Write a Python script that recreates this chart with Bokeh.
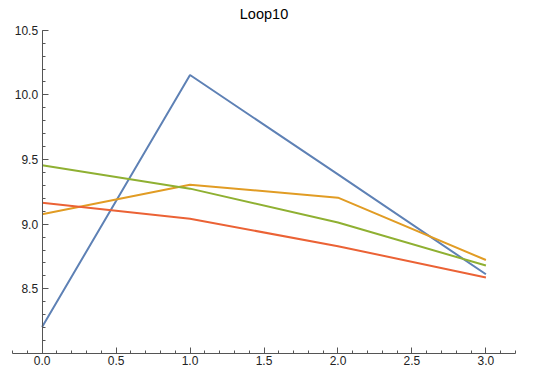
from bokeh.plotting import figure
from bokeh.models import FixedTicker, Range1d
from bokeh.embed import file_html
from bokeh.resources import INLINE

# data
x_vals = [0, 1, 2, 3]
series_blue = [8.205, 10.154, 9.385, 8.613]
series_orange = [9.077, 9.305, 9.205, 8.723]
series_green = [9.456, 9.275, 9.013, 8.68]
series_red = [9.165, 9.042, 8.83, 8.588]
series_colors = ["#5E81B5", "#E19C24", "#8FB032", "#EB6235"]

x_major = [0.0, 0.5, 1.0, 1.5, 2.0, 2.5, 3.0]
x_minor = [round(-0.2 + 0.1 * i, 1) for i in range(35)]
y_major = [8.5, 9.0, 9.5, 10.0, 10.5]
y_minor = [round(8.0 + 0.1 * i, 1) for i in range(26)]

p = figure(width=540, height=367, output_backend="svg", toolbar_location=None,
           x_range=Range1d(-0.2, 3.2), y_range=Range1d(8.0, 10.56),
           title="Loop10", min_border_left=12, min_border_right=25,
           min_border_top=22, min_border_bottom=0)
p.outline_line_color = None
p.grid.visible = False
p.background_fill_color = "white"
p.border_fill_color = "white"

p.title.align = "center"
p.title.text_font = "Liberation Sans"
p.title.text_font_size = "14.5px"
p.title.text_font_style = "normal"
p.title.text_color = "#000000"
p.title.standoff = 2
p.title.offset = 0

for ys, c in zip([series_blue, series_orange, series_green, series_red], series_colors):
    p.line(x_vals, ys, line_color=c, line_width=2)

axis_col = "#555555"
for ax in (p.xaxis[0], p.yaxis[0]):
    ax.axis_line_color = axis_col
    ax.major_tick_line_color = axis_col
    ax.minor_tick_line_color = axis_col
    ax.major_tick_in = 6
    ax.major_tick_out = 0
    ax.minor_tick_in = 3
    ax.minor_tick_out = 0
    ax.major_label_text_font = "Liberation Sans"
    ax.major_label_text_font_size = "12px"
    ax.major_label_text_color = "#222222"

p.xaxis[0].ticker = FixedTicker(ticks=x_major, minor_ticks=x_minor)
p.xaxis[0].major_label_overrides = {t: f"{t:.1f}" for t in x_major}
p.xaxis[0].major_label_standoff = 2
p.yaxis[0].ticker = FixedTicker(ticks=y_major, minor_ticks=y_minor)
p.yaxis[0].major_label_overrides = {t: f"{t:.1f}" for t in y_major}
p.yaxis[0].fixed_location = 0
p.yaxis[0].bounds = (8.0, 10.5)
p.yaxis[0].major_label_standoff = 4

open("out.html", "w").write(file_html(p, INLINE))
